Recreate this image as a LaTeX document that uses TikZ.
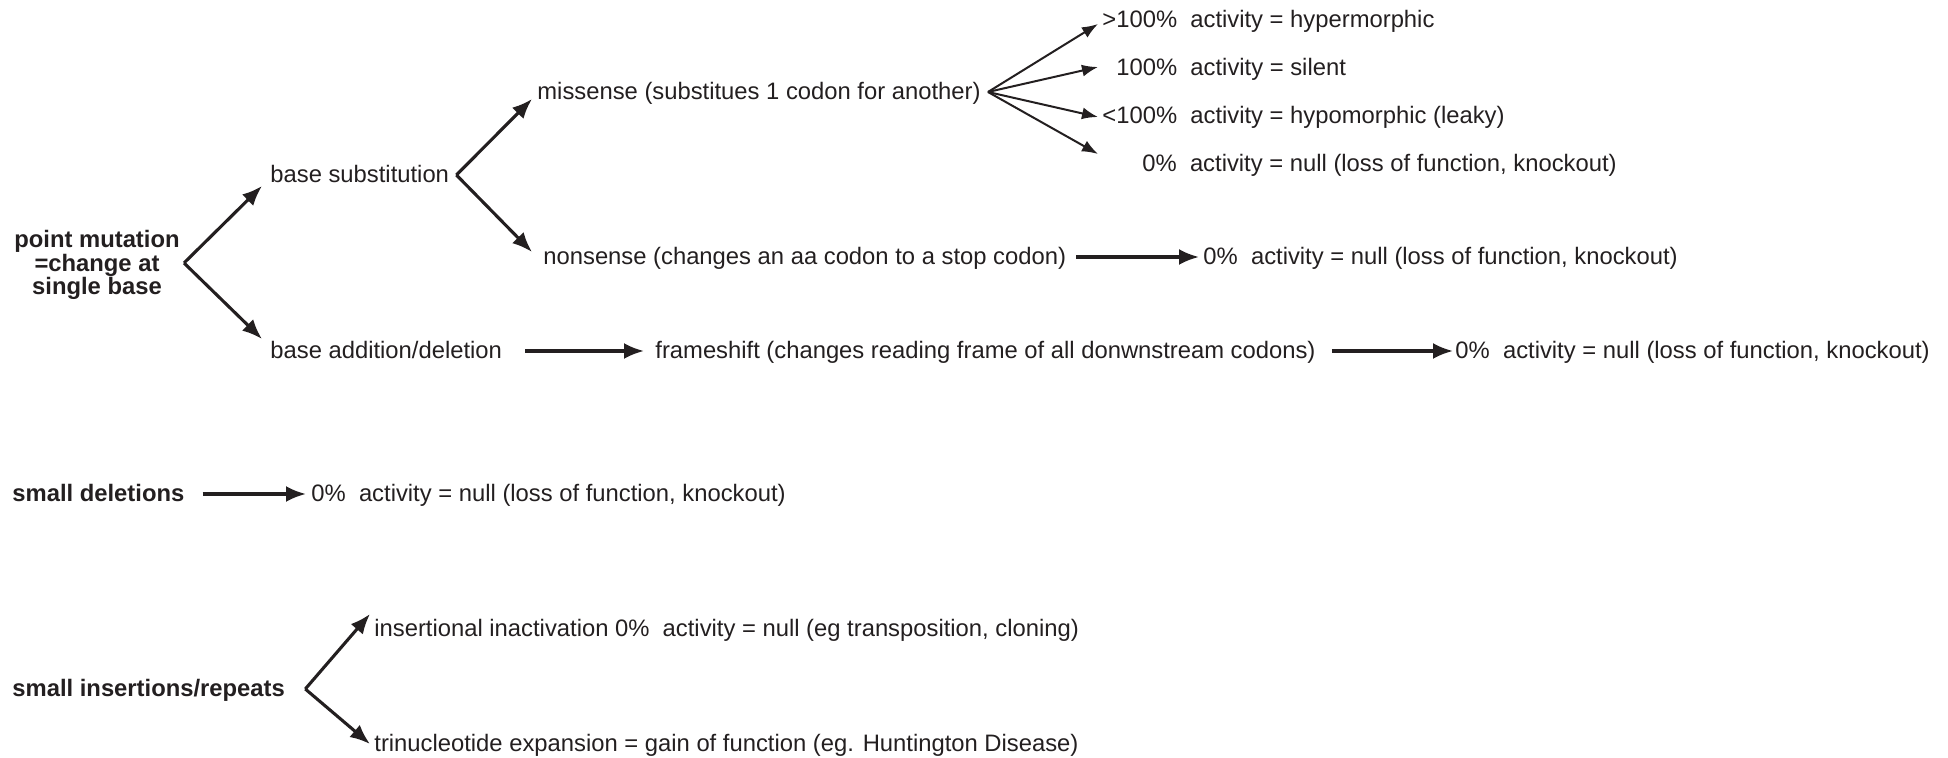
\documentclass[tikz,border=0pt]{standalone}
\usepackage{fontspec}
\setmainfont{Liberation Sans}
\usetikzlibrary{arrows.meta}
\definecolor{ink}{RGB}{35,31,32}
\begin{document}
\begin{tikzpicture}[x=0.5pt,y=-0.5pt,
  lbl/.style={anchor=west,inner sep=0pt,text height=9.6pt,text depth=2.5pt,
    font=\fontsize{11.9}{11.8}\selectfont,text=ink},
  blbl/.style={lbl,font=\fontsize{11.9}{11.8}\selectfont\bfseries},
  pmstyle/.style={anchor=center,align=center,inner sep=0pt,
    font=\fontsize{11.9}{11.8}\selectfont\bfseries,text=ink},
  arr/.style={draw=ink,line width=1.55pt,-{Latex[length=10pt,width=8pt]}},
  farr/.style={draw=ink,line width=1pt,-{Latex[length=8pt,width=6pt]}}]
\useasboundingbox (0,0) rectangle (1948,758);

% nodes
\node[pmstyle] (pm) at (97,265) {point mutation\\=change at\\single base};
\node[lbl] (bs) at (270,175) {base substitution};
\node[lbl] (ba) at (270,351) {base addition/deletion};
\node[lbl] (ms) at (537,92) {missense (substitues 1 codon for another)};
\node[lbl] (ns) at (543,257) {nonsense (changes an aa codon to a stop codon)};
\node[lbl] (fs) at (655,351) {frameshift (changes reading frame of all donwnstream codons)};
\node[lbl] (hyper) at (1102,20) {>100\%\ \ activity = hypermorphic};
\node[lbl] (silent) at (1116,68) {100\%\ \ activity = silent};
\node[lbl] (hypo) at (1102,116) {<100\%\ \ activity = hypomorphic (leaky)};
\node[lbl] (null1) at (1142,164) {0\%\ \ activity = null (loss of function, knockout)};
\node[lbl] (null2) at (1203,257) {0\%\ \ activity = null (loss of function, knockout)};
\node[lbl] (null3) at (1455,351) {0\%\ \ activity = null (loss of function, knockout)};
\node[blbl] (sd) at (12,494) {small deletions};
\node[lbl] (null4) at (311,494) {0\%\ \ activity = null (loss of function, knockout)};
\node[blbl] (si) at (12,689) {small insertions/repeats};
\node[lbl] (ins) at (374,629) {insertional inactivation 0\%\ \ activity = null (eg transposition, cloning)};
\node[lbl] (tri) at (374,744) {trinucleotide expansion = gain of function (eg. Huntington Disease)};

% branch vertices
\coordinate (pmv) at ([xshift=2pt,yshift=1pt]pm.east);
\coordinate (bsv) at ([xshift=3.5pt]bs.east);
\coordinate (msv) at ([xshift=3.5pt]ms.east);
\coordinate (siv) at ([xshift=10pt]si.east);

% connectors
\draw[arr] (pmv) -- ([xshift=-4pt,yshift=-5.5pt]bs.west);
\draw[arr] (pmv) -- ([xshift=-4pt,yshift=6pt]ba.west);
\draw[arr] (bsv) -- ([xshift=-2.5pt,yshift=-3.5pt]ms.west);
\draw[arr] (bsv) -- ([xshift=-5.5pt,yshift=2.5pt]ns.west);
\draw[farr] (msv) -- ([xshift=-2pt,yshift=-2pt]hyper.west);
\draw[farr] (msv) -- ([xshift=-9pt,yshift=0.5pt]silent.west);
\draw[farr] (msv) -- ([xshift=-2pt,yshift=-0.5pt]hypo.west);
\draw[farr] (msv) -- ([xshift=-22pt,yshift=5pt]null1.west);
\draw[arr,shorten <=5pt,shorten >=2pt] (ns.east) -- (null2.west);
\draw[arr,shorten <=11.5pt,shorten >=5.5pt] (ba.east) -- (fs.west);
\draw[arr,shorten <=8pt,shorten >=1pt] (fs.east) -- (null3.west);
\draw[arr,shorten <=9pt,shorten >=2.5pt] (sd.east) -- (null4.west);
\draw[arr] (siv) -- ([xshift=-2pt,yshift=7.5pt]ins.west);
\draw[arr] (siv) -- ([xshift=-2pt]tri.west);
\end{tikzpicture}
\end{document}
